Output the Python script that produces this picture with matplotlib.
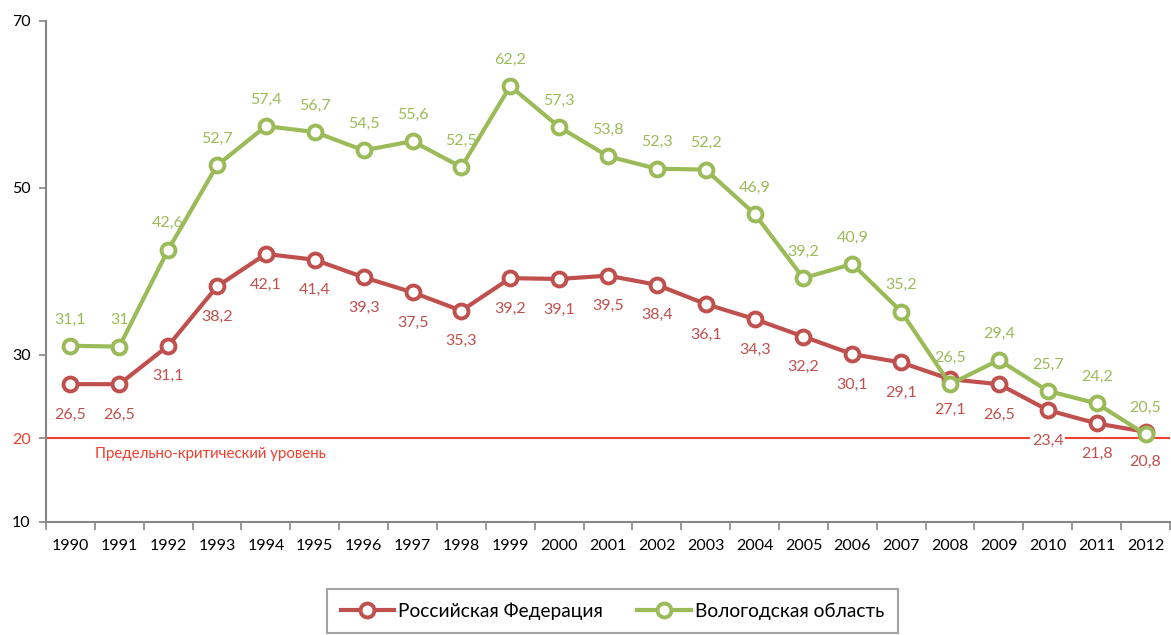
import matplotlib.pyplot as plt
import numpy as np

plt.rcParams['font.family'] = ['Lato', 'DejaVu Sans']

years = [1990, 1991, 1992, 1993, 1994, 1995, 1996, 1997, 1998, 1999, 2000, 2001,
         2002, 2003, 2004, 2005, 2006, 2007, 2008, 2009, 2010, 2011, 2012]
russia = [26.5, 26.5, 31.1, 38.2, 42.1, 41.4, 39.3, 37.5, 35.3, 39.2, 39.1, 39.5,
          38.4, 36.1, 34.3, 32.2, 30.1, 29.1, 27.1, 26.5, 23.4, 21.8, 20.8]
vologda = [31.1, 31, 42.6, 52.7, 57.4, 56.7, 54.5, 55.6, 52.5, 62.2, 57.3, 53.8,
           52.3, 52.2, 46.9, 39.2, 40.9, 35.2, 26.5, 29.4, 25.7, 24.2, 20.5]
critical = 20
critical_label = 'Предельно-критический уровень'
names = ['Российская Федерация', 'Вологодская область']

red = '#C0504D'
green = '#9BBB59'
line_red = '#F0402E'
grey = '#868686'


def fmt(v):
    s = ('%.1f' % v).rstrip('0').rstrip('.')
    return s.replace('.', ',')


fig = plt.figure(figsize=(11.71, 6.35), dpi=100)
ax = fig.add_axes([0.0393, 0.178, 0.9598, 0.789])

x = np.arange(len(years))
ax.axhline(critical, color=line_red, lw=1.5, zorder=1)
ax.text(0.5, critical - 1.0, critical_label, color=line_red, fontsize=10.8,
        va='top', ha='left')

ax.plot(x, russia, color=red, lw=3, marker='o', ms=10, mfc='white', mec=red,
        mew=2.8, label=names[0], zorder=3)
ax.plot(x, vologda, color=green, lw=3, marker='o', ms=10, mfc='white', mec=green,
        mew=2.8, label=names[1], zorder=4)

for i, v in enumerate(russia):
    kw = {}
    if years[i] == 2010:
        kw['bbox'] = dict(facecolor='white', edgecolor='none', pad=1)
    ax.annotate(fmt(v), (x[i], v), xytext=(0, -22), textcoords='offset points',
                ha='center', va='center', color=red, fontsize=11.5, zorder=5, **kw)
for i, v in enumerate(vologda):
    ax.annotate(fmt(v), (x[i], v), xytext=(0, 19), textcoords='offset points',
                ha='center', va='center', color=green, fontsize=11.5, zorder=5)

ax.set_xlim(-0.5, len(years) - 0.5)
ax.set_ylim(10, 70)
ax.set_yticks([10, 20, 30, 50, 70])
ax.set_yticklabels(['10', '20', '30', '50', '70'], fontsize=11.5)
ax.get_yticklabels()[1].set_color(line_red)
ax.tick_params(axis='y', length=5, color=grey, width=1.2, pad=6)

ax.set_xticks(x)
ax.set_xticklabels([str(y) for y in years], fontsize=11.5)
ax.set_xticks(np.arange(len(years) + 1) - 0.5, minor=True)
ax.tick_params(axis='x', which='major', length=0, pad=12)
ax.tick_params(axis='x', which='minor', length=6, color=grey, width=1.2)

for s in ['top', 'right']:
    ax.spines[s].set_visible(False)
for s in ['left', 'bottom']:
    ax.spines[s].set_color(grey)
    ax.spines[s].set_linewidth(1.5)

leg = fig.legend(loc='upper center', bbox_to_anchor=(0.523, 0.073), ncol=2,
                 fontsize=13.8, frameon=True, fancybox=False, edgecolor='#8C8C8C',
                 borderpad=0.7, handlelength=2.8, columnspacing=1.8,
                 handletextpad=0.2, borderaxespad=0)
leg.get_frame().set_linewidth(1.5)

fig.savefig('out.png', dpi=100)
